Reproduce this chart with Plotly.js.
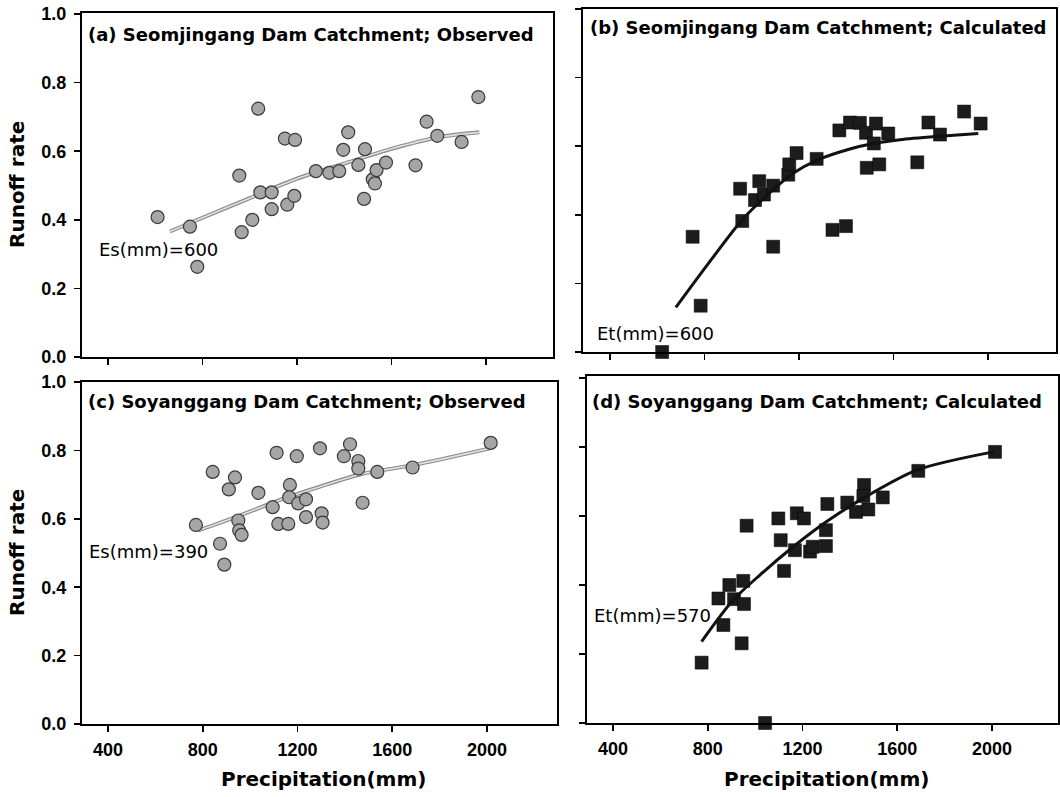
<!DOCTYPE html>
<html>
<head>
<meta charset="utf-8">
<script src="https://cdn.plot.ly/plotly-3.0.1.min.js"></script>
<style>html,body{margin:0;padding:0;background:#fff;}#chart{width:1060px;height:797px;}</style>
</head>
<body>
<div id="chart"></div>
<script>
// ---------------- data ----------------
const xTickVals = [400, 800, 1200, 1600, 2000];
const xTickText = ["400", "800", "1200", "1600", "2000"];
const yTickVals = [0, 0.2, 0.4, 0.6, 0.8, 1.0];
const yTickText = ["0.0", "0.2", "0.4", "0.6", "0.8", "1.0"];

// (a) Seomjingang observed
const a_precip = [610,747,778,956,966,1011,1036,1045,1093,1093,1149,1192,1159,1189,1280,1337,1379,1396,1417,1460,1488,1484,1521,1530,1537,1577,1702,1749,1794,1897,1968];
const a_runoff = [0.408,0.380,0.263,0.529,0.364,0.400,0.724,0.480,0.480,0.431,0.637,0.633,0.444,0.470,0.542,0.537,0.542,0.604,0.655,0.560,0.606,0.461,0.518,0.506,0.545,0.567,0.559,0.686,0.645,0.627,0.758];
const a_fit_x = [662, 800, 1000, 1200, 1400, 1600, 1800, 1972];
const a_fit_y = [0.366, 0.406, 0.463, 0.520, 0.564, 0.607, 0.641, 0.655];

// (b) Seomjingang calculated
const b_precip = [750,784,621,951,960,1014,1032,1052,1091,1091,1155,1159,1190,1275,1342,1399,1371,1416,1458,1484,1487,1526,1517,1540,1578,1701,1748,1797,1899,1969];
const b_runoff = [0.336,0.135,0.0,0.476,0.382,0.443,0.498,0.459,0.485,0.307,0.517,0.547,0.580,0.563,0.356,0.367,0.646,0.669,0.668,0.639,0.537,0.666,0.608,0.547,0.637,0.553,0.669,0.634,0.701,0.666];
const b_fit_x = [679, 809, 962, 1092, 1177, 1275, 1416, 1515, 1628, 1797, 1959];
const b_fit_y = [0.130, 0.251, 0.387, 0.474, 0.522, 0.559, 0.592, 0.608, 0.619, 0.629, 0.637];

// (c) Soyanggang observed
const c_precip = [771,842,873,891,910,936,950,954,964,1035,1095,1112,1119,1161,1168,1165,1197,1203,1236,1236,1295,1302,1306,1396,1422,1457,1457,1475,1537,1686,2016];
const c_runoff = [0.582,0.737,0.527,0.466,0.686,0.721,0.595,0.566,0.553,0.676,0.634,0.793,0.585,0.585,0.699,0.663,0.783,0.645,0.657,0.605,0.806,0.616,0.589,0.783,0.818,0.769,0.747,0.647,0.737,0.750,0.822];
const c_fit_x = [781, 943, 1126, 1295, 1471, 1689, 2013];
const c_fit_y = [0.566, 0.606, 0.655, 0.694, 0.731, 0.757, 0.806];

// (d) Soyanggang calculated
const d_precip = [774,845,866,891,911,950,953,943,964,1042,1098,1108,1122,1168,1176,1206,1232,1243,1299,1299,1305,1389,1426,1460,1457,1478,1539,1689,2013];
const d_runoff = [0.175,0.361,0.284,0.400,0.359,0.412,0.345,0.231,0.572,0.0,0.593,0.530,0.441,0.501,0.608,0.593,0.497,0.511,0.559,0.513,0.635,0.639,0.612,0.690,0.658,0.619,0.654,0.731,0.786];
const d_fit_x = [774, 908, 1020, 1161, 1302, 1443, 1682, 2006];
const d_fit_y = [0.236, 0.357, 0.429, 0.511, 0.584, 0.646, 0.733, 0.786];

const panelTitles = [
  "(a) Seomjingang Dam Catchment; Observed",
  "(b) Seomjingang Dam Catchment; Calculated",
  "(c) Soyanggang Dam Catchment; Observed",
  "(d) Soyanggang Dam Catchment; Calculated"
];
const panelNotes = ["Es(mm)=600", "Et(mm)=600", "Es(mm)=390", "Et(mm)=570"];
const yTitle = "Runoff rate";
const xTitle = "Precipitation(mm)";

// ---------------- layout helpers ----------------
const W = 1060, H = 797;
const px = v => v / W;
const py = v => 1 - v / H;
const FONT = "DejaVu Sans";

const circleMarker = {symbol: "circle", size: 13, color: "#a6a6a6", line: {color: "#3a3a3a", width: 1.2}};
const squareMarker = {symbol: "square", size: 13, color: "#1c1c1c", line: {color: "#000", width: 0.5}};

function pts(x, y, xa, ya, marker) {
  return {type: "scatter", mode: "markers", x: x, y: y, xaxis: xa, yaxis: ya, marker: marker, cliponaxis: false, showlegend: false, hoverinfo: "x+y"};
}
function fit(x, y, xa, ya, color, width) {
  return {type: "scatter", mode: "lines", x: x, y: y, xaxis: xa, yaxis: ya, line: {color: color, width: width, shape: "spline", smoothing: 0.8}, showlegend: false, hoverinfo: "skip"};
}

const traces = [
  fit(a_fit_x, a_fit_y, "x", "y", "#8a8a8a", 4),
  fit(a_fit_x, a_fit_y, "x", "y", "#e0e0e0", 1.6),
  pts(a_precip, a_runoff, "x", "y", circleMarker),
  pts(b_precip, b_runoff, "x2", "y2", squareMarker),
  fit(b_fit_x, b_fit_y, "x2", "y2", "#111", 3),
  fit(c_fit_x, c_fit_y, "x3", "y3", "#8a8a8a", 4),
  fit(c_fit_x, c_fit_y, "x3", "y3", "#e0e0e0", 1.6),
  pts(c_precip, c_runoff, "x3", "y3", circleMarker),
  pts(d_precip, d_runoff, "x4", "y4", squareMarker),
  fit(d_fit_x, d_fit_y, "x4", "y4", "#111", 3)
];

const tickFont = {family: "Liberation Sans", size: 18, color: "#000", weight: 700};

function xax(domain, range, anchor, labels) {
  return {domain: domain, range: range, anchor: anchor, tickvals: xTickVals, ticktext: xTickText,
    showticklabels: labels, ticks: "outside", ticklen: 6, tickwidth: 1.5, tickcolor: "#000",
    showline: true, linecolor: "#000", linewidth: 2, mirror: true, showgrid: false, zeroline: false,
    tickfont: tickFont, ticklabelstandoff: 2, fixedrange: true};
}
function yax(domain, range, anchor, labels) {
  return {domain: domain, range: range, anchor: anchor, tickvals: yTickVals, ticktext: yTickText,
    showticklabels: labels, ticks: "outside", ticklen: 6, tickwidth: 1.5, tickcolor: "#000",
    showline: true, linecolor: "#000", linewidth: 2, mirror: true, showgrid: false, zeroline: false,
    tickfont: tickFont, ticklabelstandoff: 4, fixedrange: true};
}

function ann(text, x, y, opts) {
  return Object.assign({text: text, x: px(x), y: py(y), xref: "paper", yref: "paper",
    showarrow: false, xanchor: "left", yanchor: "middle",
    font: {family: FONT, size: 18, color: "#000", weight: 700}}, opts || {});
}

const annotations = [
  ann(panelTitles[0], 86, 34),
  ann(panelTitles[1], 588, 28),
  ann(panelTitles[2], 86, 402),
  ann(panelTitles[3], 590, 401),
  ann(panelNotes[0], 97, 250, {font: {family: FONT, size: 18, color: "#000"}}),
  ann(panelNotes[1], 595, 334, {font: {family: FONT, size: 18, color: "#000"}}),
  ann(panelNotes[2], 87, 551, {font: {family: FONT, size: 18, color: "#000"}}),
  ann(panelNotes[3], 592, 615, {font: {family: FONT, size: 18, color: "#000"}}),
  ann(yTitle, 17, 185, {xanchor: "center", textangle: -90, font: {family: FONT, size: 20, color: "#000", weight: 700}}),
  ann(yTitle, 17, 553, {xanchor: "center", textangle: -90, font: {family: FONT, size: 20, color: "#000", weight: 700}}),
  ann(xTitle, 323, 779, {xanchor: "center", font: {family: FONT, size: 20, color: "#000", weight: 700}}),
  ann(xTitle, 826, 779, {xanchor: "center", font: {family: FONT, size: 20, color: "#000", weight: 700}})
];

const layout = {
  width: W, height: H,
  margin: {l: 0, r: 0, t: 0, b: 0},
  paper_bgcolor: "#fff", plot_bgcolor: "#fff",
  showlegend: false,
  xaxis:  xax([px(82), px(553)],  [290, 2284], "y",  false),
  yaxis:  yax([py(357), py(13)],  [0, 1.003],  "x",  true),
  xaxis2: xax([px(583), px(1056)], [286, 2288], "y2", false),
  yaxis2: yax([py(352), py(9)],   [0, 1.0],    "x2", false),
  xaxis3: xax([px(82), px(557)],  [290, 2296], "y3", true),
  yaxis3: yax([py(724), py(382)], [0, 1.0],    "x3", true),
  xaxis4: xax([px(587), px(1058)], [290, 2279], "y4", true),
  yaxis4: yax([py(723), py(376)], [0, 1.006],  "x4", false),
  annotations: annotations
};

Plotly.newPlot("chart", traces, layout, {displayModeBar: false, staticPlot: true});
</script>
</body>
</html>
